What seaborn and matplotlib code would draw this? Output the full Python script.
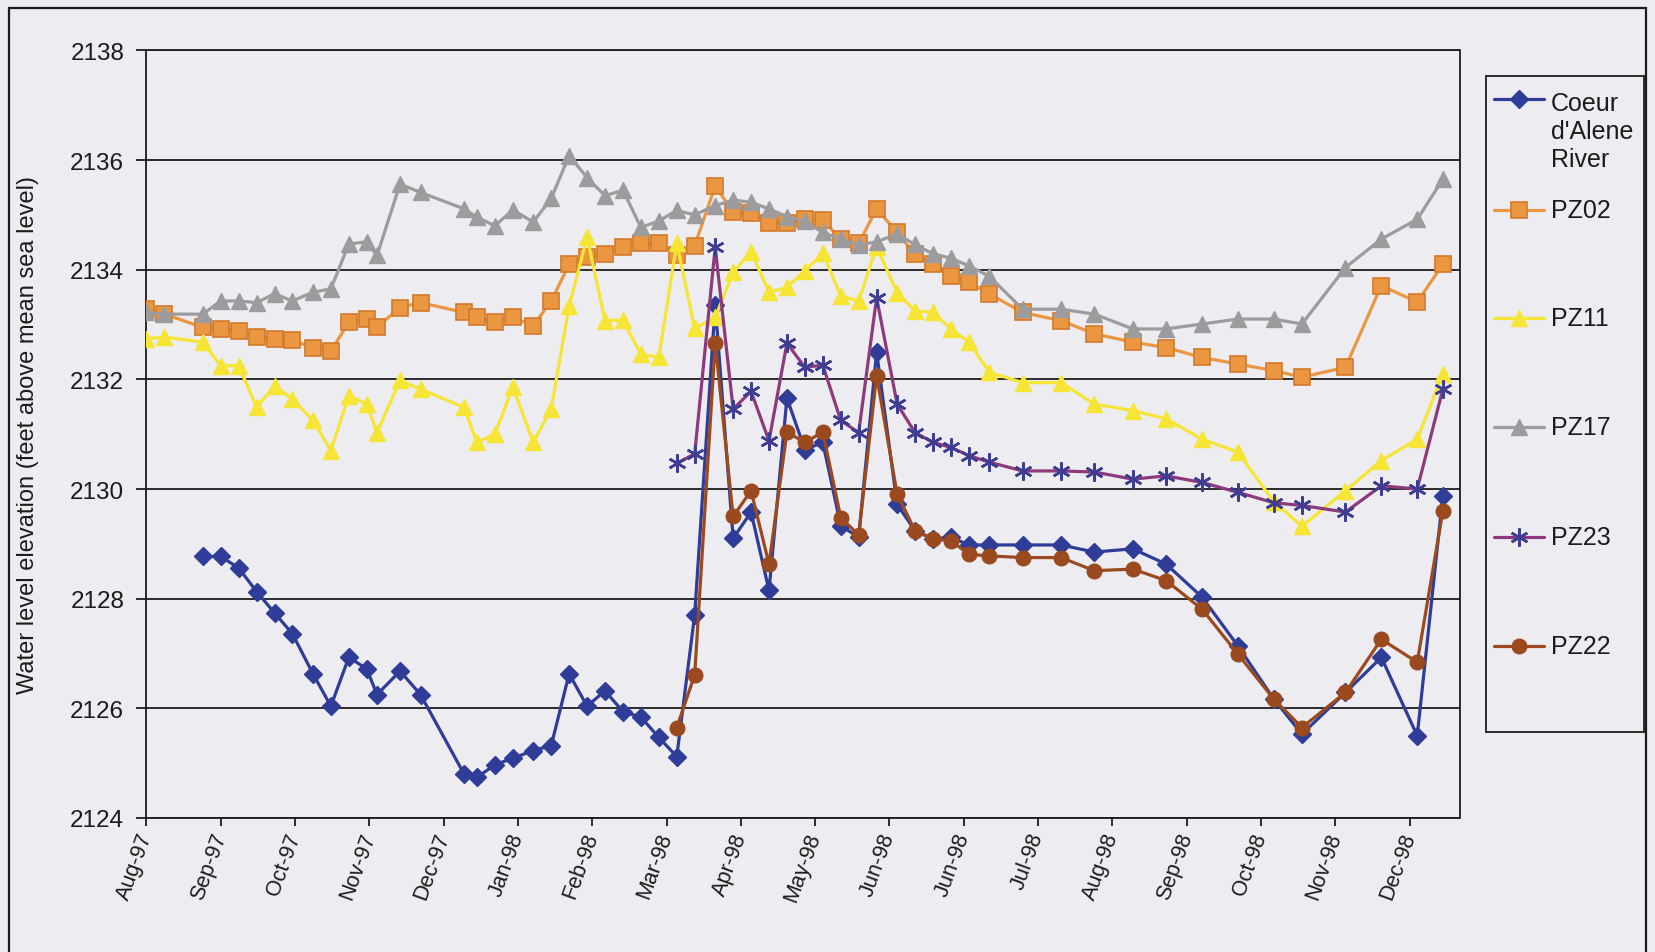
import numpy as np
import pandas as pd
import matplotlib
matplotlib.use("Agg")
import matplotlib.pyplot as plt
from matplotlib.lines import Line2D
from matplotlib.patches import Rectangle
import seaborn as sns

# ---- sampling dates ----
dates = [
    "1997-08-15", "1997-08-22", "1997-09-06", "1997-09-13", "1997-09-20", "1997-09-27",
    "1997-10-04", "1997-10-11", "1997-10-19", "1997-10-26", "1997-11-02", "1997-11-09",
    "1997-11-13", "1997-11-22", "1997-11-30", "1997-12-17", "1997-12-22", "1997-12-29",
    "1998-01-05", "1998-01-13", "1998-01-20", "1998-01-27", "1998-02-03", "1998-02-10",
    "1998-02-17", "1998-02-24", "1998-03-03", "1998-03-10", "1998-03-17", "1998-03-25",
    "1998-04-01", "1998-04-08", "1998-04-15", "1998-04-22", "1998-04-29", "1998-05-06",
    "1998-05-13", "1998-05-20", "1998-05-27", "1998-06-04", "1998-06-11", "1998-06-18",
    "1998-06-25", "1998-07-02", "1998-07-10", "1998-07-23", "1998-08-07", "1998-08-20",
    "1998-09-04", "1998-09-17", "1998-10-01", "1998-10-15", "1998-10-29", "1998-11-09",
    "1998-11-26", "1998-12-10", "1998-12-24", "1999-01-03",
]

nan = np.nan

# ---- water level elevations (ft above mean sea level) ----
river = [
    nan, nan, 2128.77, 2128.77, 2128.56, 2128.13, 2127.74, 2127.36, 2126.63, 2126.04,
    2126.93, 2126.72, 2126.25, 2126.68, 2126.25, 2124.80, 2124.74, 2124.97, 2125.09, 2125.23,
    2125.32, 2126.63, 2126.04, 2126.32, 2125.94, 2125.84, 2125.47, 2125.12, 2127.71, 2133.36,
    2129.10, 2129.58, 2128.15, 2131.66, 2130.72, 2130.85, 2129.33, 2129.12, 2132.50, 2129.72,
    2129.24, 2129.09, 2129.12, 2128.98, 2128.98, 2128.98, 2128.98, 2128.85, 2128.91, 2128.63,
    2128.03, 2127.14, 2126.17, 2125.53, 2126.29, 2126.93, 2125.50, 2129.88,
]

pz02 = [
    2133.28, 2133.19, 2132.95, 2132.92, 2132.89, 2132.77, 2132.74, 2132.71, 2132.58, 2132.52,
    2133.04, 2133.10, 2132.95, 2133.31, 2133.40, 2133.22, 2133.13, 2133.04, 2133.13, 2132.98,
    2133.43, 2134.10, 2134.23, 2134.29, 2134.41, 2134.48, 2134.48, 2134.26, 2134.44, 2135.53,
    2135.05, 2135.03, 2134.85, 2134.85, 2134.93, 2134.90, 2134.56, 2134.48, 2135.11, 2134.68,
    2134.28, 2134.10, 2133.89, 2133.77, 2133.56, 2133.22, 2133.07, 2132.83, 2132.68, 2132.58,
    2132.40, 2132.28, 2132.16, 2132.04, 2132.22, 2133.71, 2133.41, 2134.10,
]

pz11 = [
    2132.74, 2132.77, 2132.68, 2132.25, 2132.25, 2131.49, 2131.88, 2131.64, 2131.25, 2130.70,
    2131.70, 2131.55, 2131.03, 2131.98, 2131.82, 2131.49, 2130.85, 2131.00, 2131.86, 2130.85,
    2131.46, 2133.34, 2134.59, 2133.07, 2133.08, 2132.46, 2132.40, 2134.48, 2132.93, 2133.13,
    2133.95, 2134.33, 2133.59, 2133.68, 2133.98, 2134.30, 2133.52, 2133.43, 2134.42, 2133.58,
    2133.25, 2133.22, 2132.92, 2132.68, 2132.13, 2131.94, 2131.94, 2131.55, 2131.43, 2131.28,
    2130.91, 2130.67, 2129.77, 2129.32, 2129.97, 2130.52, 2130.91, 2132.10,
]

pz17 = [
    2133.22, 2133.19, 2133.19, 2133.43, 2133.43, 2133.40, 2133.56, 2133.43, 2133.59, 2133.65,
    2134.47, 2134.51, 2134.26, 2135.56, 2135.41, 2135.11, 2134.96, 2134.80, 2135.09, 2134.87,
    2135.30, 2136.08, 2135.68, 2135.35, 2135.45, 2134.77, 2134.89, 2135.08, 2135.00, 2135.17,
    2135.27, 2135.23, 2135.11, 2134.97, 2134.88, 2134.68, 2134.56, 2134.45, 2134.51, 2134.65,
    2134.46, 2134.29, 2134.21, 2134.07, 2133.88, 2133.28, 2133.28, 2133.19, 2132.92, 2132.92,
    2133.01, 2133.10, 2133.10, 2133.01, 2134.04, 2134.56, 2134.92, 2135.65,
]

pz23 = [nan] * 27 + [
    2130.47, 2130.64, 2134.41, 2131.46, 2131.78, 2130.88, 2132.66, 2132.22, 2132.26, 2131.25,
    2131.03, 2133.49, 2131.55, 2131.03, 2130.85, 2130.76, 2130.61, 2130.49, 2130.33, 2130.33,
    2130.31, 2130.18, 2130.24, 2130.12, 2129.94, 2129.75, 2129.70, 2129.58, 2130.06, 2130.00,
    2131.82,
]

pz22 = [nan] * 27 + [
    2125.65, 2126.61, 2132.67, 2129.50, 2129.97, 2128.63, 2131.04, 2130.85, 2131.04, 2129.48,
    2129.16, 2132.07, 2129.91, 2129.24, 2129.09, 2129.06, 2128.81, 2128.78, 2128.75, 2128.75,
    2128.51, 2128.54, 2128.33, 2127.81, 2126.99, 2126.17, 2125.65, 2126.29, 2127.26, 2126.84,
    2129.60,
]

series_names = ["Coeur d'Alene River", "PZ02", "PZ11", "PZ17", "PZ23", "PZ22"]
legend_labels = ["Coeur\nd'Alene\nRiver", "PZ02", "PZ11", "PZ17", "PZ23", "PZ22"]
y_ticks = [2124, 2126, 2128, 2130, 2132, 2134, 2136, 2138]
y_label = "Water level elevation (feet above mean sea level)"

# date axis: major unit of 29 days starting 15 Aug 1997
tick_start = pd.Timestamp("1997-08-15")
tick_step_days = 29
n_ticks = 18
x_end = pd.Timestamp("1999-01-09 12:00")

# ---- styling per series ----
styles = {
    "Coeur d'Alene River": dict(color="#2f3c98", marker="D", markersize=9.0,
                                markerfacecolor="#2f3c98", markeredgecolor="#2f3c98",
                                markeredgewidth=1.0),
    "PZ02": dict(color="#eb9742", marker="s", markersize=11.0,
                 markerfacecolor="#eb9742", markeredgecolor="#d27a2c", markeredgewidth=1.2),
    "PZ11": dict(color="#f6e534", marker="^", markersize=12.0,
                 markerfacecolor="#f6e534", markeredgecolor="#f6e534", markeredgewidth=1.0),
    "PZ17": dict(color="#9c9c9e", marker="^", markersize=12.0,
                 markerfacecolor="#9c9c9e", markeredgecolor="#9c9c9e", markeredgewidth=1.0),
    "PZ23": dict(color="#8c3a7c", marker=(6, 2, 0), markersize=13.0,
                 markerfacecolor="#3e3d92", markeredgecolor="#3e3d92", markeredgewidth=1.8),
    "PZ22": dict(color="#9b4a1f", marker="o", markersize=10.5,
                 markerfacecolor="#9b4a1f", markeredgecolor="#9b4a1f", markeredgewidth=1.0),
}

bg = "#ececf1"
ink = "#1c1c1c"

sns.set_style("ticks")
plt.rcParams["font.family"] = ["Liberation Sans", "DejaVu Sans"]

W, H = 1655, 953
fig = plt.figure(figsize=(W / 100, H / 100), dpi=100, facecolor=bg)
ax = fig.add_axes([146.4 / W, 1 - 819 / H, (1459.5 - 146.4) / W, (819 - 51.4) / H])
ax.set_facecolor(bg)

wide = pd.DataFrame({
    "date": pd.to_datetime(dates),
    "Coeur d'Alene River": river,
    "PZ02": pz02,
    "PZ11": pz11,
    "PZ17": pz17,
    "PZ23": pz23,
    "PZ22": pz22,
})
long = wide.melt(id_vars="date", var_name="series", value_name="elevation").dropna()

for z, name in enumerate(series_names):
    sub = long[long["series"] == name]
    sns.lineplot(data=sub, x="date", y="elevation", ax=ax, estimator=None,
                 linewidth=2.3, legend=False, zorder=3 + z, **styles[name])

# ---- axes ----
ax.set_ylim(2124, 2138)
ax.set_yticks(y_ticks)
ax.set_yticklabels([str(v) for v in y_ticks], fontsize=17.5, color=ink)
ax.set_xlim(tick_start, x_end)
tick_dates = [tick_start + pd.Timedelta(days=tick_step_days * k) for k in range(n_ticks)]
ax.set_xticks(tick_dates)
ax.set_xticklabels([d.strftime("%b-%y") for d in tick_dates], rotation=70,
                   ha="right", va="center", rotation_mode="anchor",
                   fontsize=15.5, color=ink)
ax.tick_params(axis="y", direction="out", length=7, width=1.3, pad=9, colors=ink)
ax.tick_params(axis="x", direction="out", length=6, width=1.3, pad=5, colors=ink)
ax.set_xlabel("")
ax.set_ylabel(y_label, fontsize=17, color=ink)
ax.yaxis.set_label_coords(-0.082, 0.5)

ax.yaxis.grid(True, color=ink, linewidth=1.3)
ax.xaxis.grid(False)
ax.set_axisbelow(True)
for side in ["left", "bottom", "top", "right"]:
    ax.spines[side].set_visible(True)
    ax.spines[side].set_color(ink)
    ax.spines[side].set_linewidth(1.3)

# ---- outer chart border ----
fig.add_artist(Rectangle((9 / W, -0.05), (1646 - 9) / W, 1 - 9 / H + 0.05,
                         transform=fig.transFigure, fill=False,
                         edgecolor=ink, linewidth=1.6))

# ---- legend ----
fig.add_artist(Rectangle((1485.5 / W, 1 - 733 / H), (1644 - 1485.5) / W, (733 - 76.7) / H,
                         transform=fig.transFigure, fill=False,
                         edgecolor=ink, linewidth=1.3))
entry_y = [100, 210.7, 319.3, 428.3, 538.3, 646.7]
lx0, lx1, lxm, tx = 1494.4 / W, 1543.9 / W, 1519 / W, 1551 / W
for name, label, py in zip(series_names, legend_labels, entry_y):
    st = styles[name]
    fy = 1 - py / H
    fig.add_artist(Line2D([lx0, lx1], [fy, fy], transform=fig.transFigure,
                          color=st["color"], linewidth=2.3))
    fig.add_artist(Line2D([lxm], [fy], transform=fig.transFigure, linestyle="none",
                          marker=st["marker"], markersize=st["markersize"],
                          markerfacecolor=st["markerfacecolor"],
                          markeredgecolor=st["markeredgecolor"],
                          markeredgewidth=st["markeredgewidth"]))
    if "\n" in label:
        fig.text(tx, 1 - (py + 31.7) / H, label, ha="left", va="center",
                 fontsize=18, color=ink, linespacing=1.22)
    else:
        fig.text(tx, fy, label, ha="left", va="center", fontsize=18, color=ink)

fig.savefig("out.png", dpi=100, facecolor=bg)
